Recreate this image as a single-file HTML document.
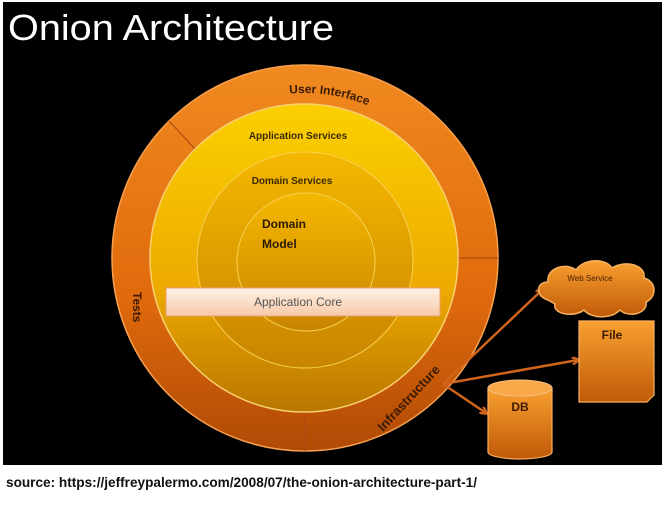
<!DOCTYPE html>
<html><head><meta charset="utf-8"><style>
html,body{margin:0;padding:0;background:#fff;width:669px;height:506px;overflow:hidden}
</style></head><body>
<svg width="669" height="506" viewBox="0 0 669 506" xmlns="http://www.w3.org/2000/svg" font-family="Liberation Sans, sans-serif">
<defs>
<linearGradient id="og" x1="0" y1="0" x2="0" y2="1"><stop offset="0" stop-color="#f08a20"/><stop offset="0.6" stop-color="#e06a0c"/><stop offset="1" stop-color="#b04a05"/></linearGradient>
<linearGradient id="yg" x1="0" y1="0" x2="0" y2="1"><stop offset="0" stop-color="#fbd000"/><stop offset="0.6" stop-color="#edaa00"/><stop offset="1" stop-color="#b97600"/></linearGradient>
<linearGradient id="ig" x1="0" y1="0" x2="0" y2="1"><stop offset="0" stop-color="#f5b800"/><stop offset="1" stop-color="#c88400"/></linearGradient>
<linearGradient id="bx" x1="0" y1="0" x2="0" y2="1"><stop offset="0" stop-color="#f8a030"/><stop offset="1" stop-color="#c05a08"/></linearGradient>
<linearGradient id="cg" x1="0" y1="0" x2="0" y2="1"><stop offset="0" stop-color="#fff2e6"/><stop offset="1" stop-color="#f7c9a8"/></linearGradient>
<marker id="ah" markerWidth="8" markerHeight="8" refX="6" refY="4" orient="auto" markerUnits="userSpaceOnUse"><path d="M0,0 L7,4 L0,8" fill="none" stroke="#d0641a" stroke-width="2.5"/></marker>
</defs>
<rect x="3" y="2" width="659" height="463" fill="#000"/>
<text x="8" y="40" fill="#fff" font-size="36" textLength="326" lengthAdjust="spacingAndGlyphs">Onion Architecture</text>
<circle cx="305" cy="258" r="193" fill="url(#og)" stroke="#f5a050" stroke-width="1.5"/>
<line x1="168" y1="120" x2="196" y2="150" stroke="#b04a10" stroke-width="1.2"/>
<line x1="458" y1="258" x2="498" y2="258" stroke="#b04a10" stroke-width="1.2"/>
<line x1="305" y1="412" x2="305" y2="451" stroke="#b04a10" stroke-width="1.2"/>
<circle cx="304" cy="258" r="154" fill="url(#yg)" stroke="#f7d070" stroke-width="1.5"/>
<circle cx="305" cy="260" r="108" fill="url(#ig)" stroke="#f8d050" stroke-width="1"/>
<circle cx="306" cy="262" r="69" fill="url(#ig)" stroke="#f8d050" stroke-width="1"/>
<rect x="166" y="288" width="274" height="28" fill="url(#cg)" stroke="#e8a070"/>
<text x="298" y="306" font-size="12" fill="#555" text-anchor="middle">Application  Core</text>
<text x="298" y="139" font-size="10" font-weight="bold" fill="#3a2a00" text-anchor="middle">Application  Services</text>
<text x="292" y="184" font-size="10" font-weight="bold" fill="#3a2a00" text-anchor="middle">Domain Services</text>
<text x="262" y="228" font-size="12" font-weight="bold" fill="#2a1a00">Domain</text>
<text x="262" y="248" font-size="12" font-weight="bold" fill="#2a1a00">Model</text>
<path id="ui" d="M 140 258 A 165 165 0 0 1 470 258" fill="none"/>
<text font-size="12" font-weight="bold" fill="#3a1a00"><textPath href="#ui" startOffset="47%">User Interface</textPath></text>
<text transform="translate(133,292) rotate(90)" font-size="12" font-weight="bold" fill="#3a1a00">Tests</text>
<text transform="translate(383,432) rotate(-47)" font-size="13" font-weight="bold" fill="#3a1a00">Infrastructure</text>
<line x1="443" y1="384" x2="542" y2="290" stroke="#d0641a" stroke-width="2.5" marker-end="url(#ah)"/>
<line x1="443" y1="384" x2="578" y2="360" stroke="#d0641a" stroke-width="2.5" marker-end="url(#ah)"/>
<line x1="443" y1="384" x2="486" y2="413" stroke="#d0641a" stroke-width="2.5" marker-end="url(#ah)"/>
<path d="M548,300 C535,296 536,282 548,282 C546,268 566,262 576,270 C584,258 606,258 612,268 C624,260 646,264 644,278 C658,282 656,298 646,302 C648,314 628,318 620,310 C610,320 590,318 584,310 C574,318 552,314 555,304 Z" fill="url(#bx)" stroke="#f8b060" stroke-width="1.5"/>
<text x="590" y="281" font-size="8" fill="#4a2000" text-anchor="middle">Web Service</text>
<path d="M579,321 L654,321 L654,395 L647,402 L579,402 Z" fill="url(#bx)" stroke="#f8b060" stroke-width="1.2"/>
<text x="612" y="339" font-size="12" font-weight="bold" fill="#3a1a00" text-anchor="middle">File</text>
<path d="M488,388 L488,452 A32,7 0 0 0 552,452 L552,388 Z" fill="url(#bx)" stroke="#f8b060" stroke-width="1.2"/>
<ellipse cx="520" cy="388" rx="32" ry="8" fill="#f8a848" stroke="#f8c080"/>
<text x="520" y="411" font-size="12" font-weight="bold" fill="#3a1a00" text-anchor="middle">DB</text>
<text x="6" y="487" font-size="14" font-weight="600" fill="#111" textLength="471" lengthAdjust="spacingAndGlyphs">source: https://jeffreypalermo.com/2008/07/the-onion-architecture-part-1/</text>
</svg>
</body></html>
